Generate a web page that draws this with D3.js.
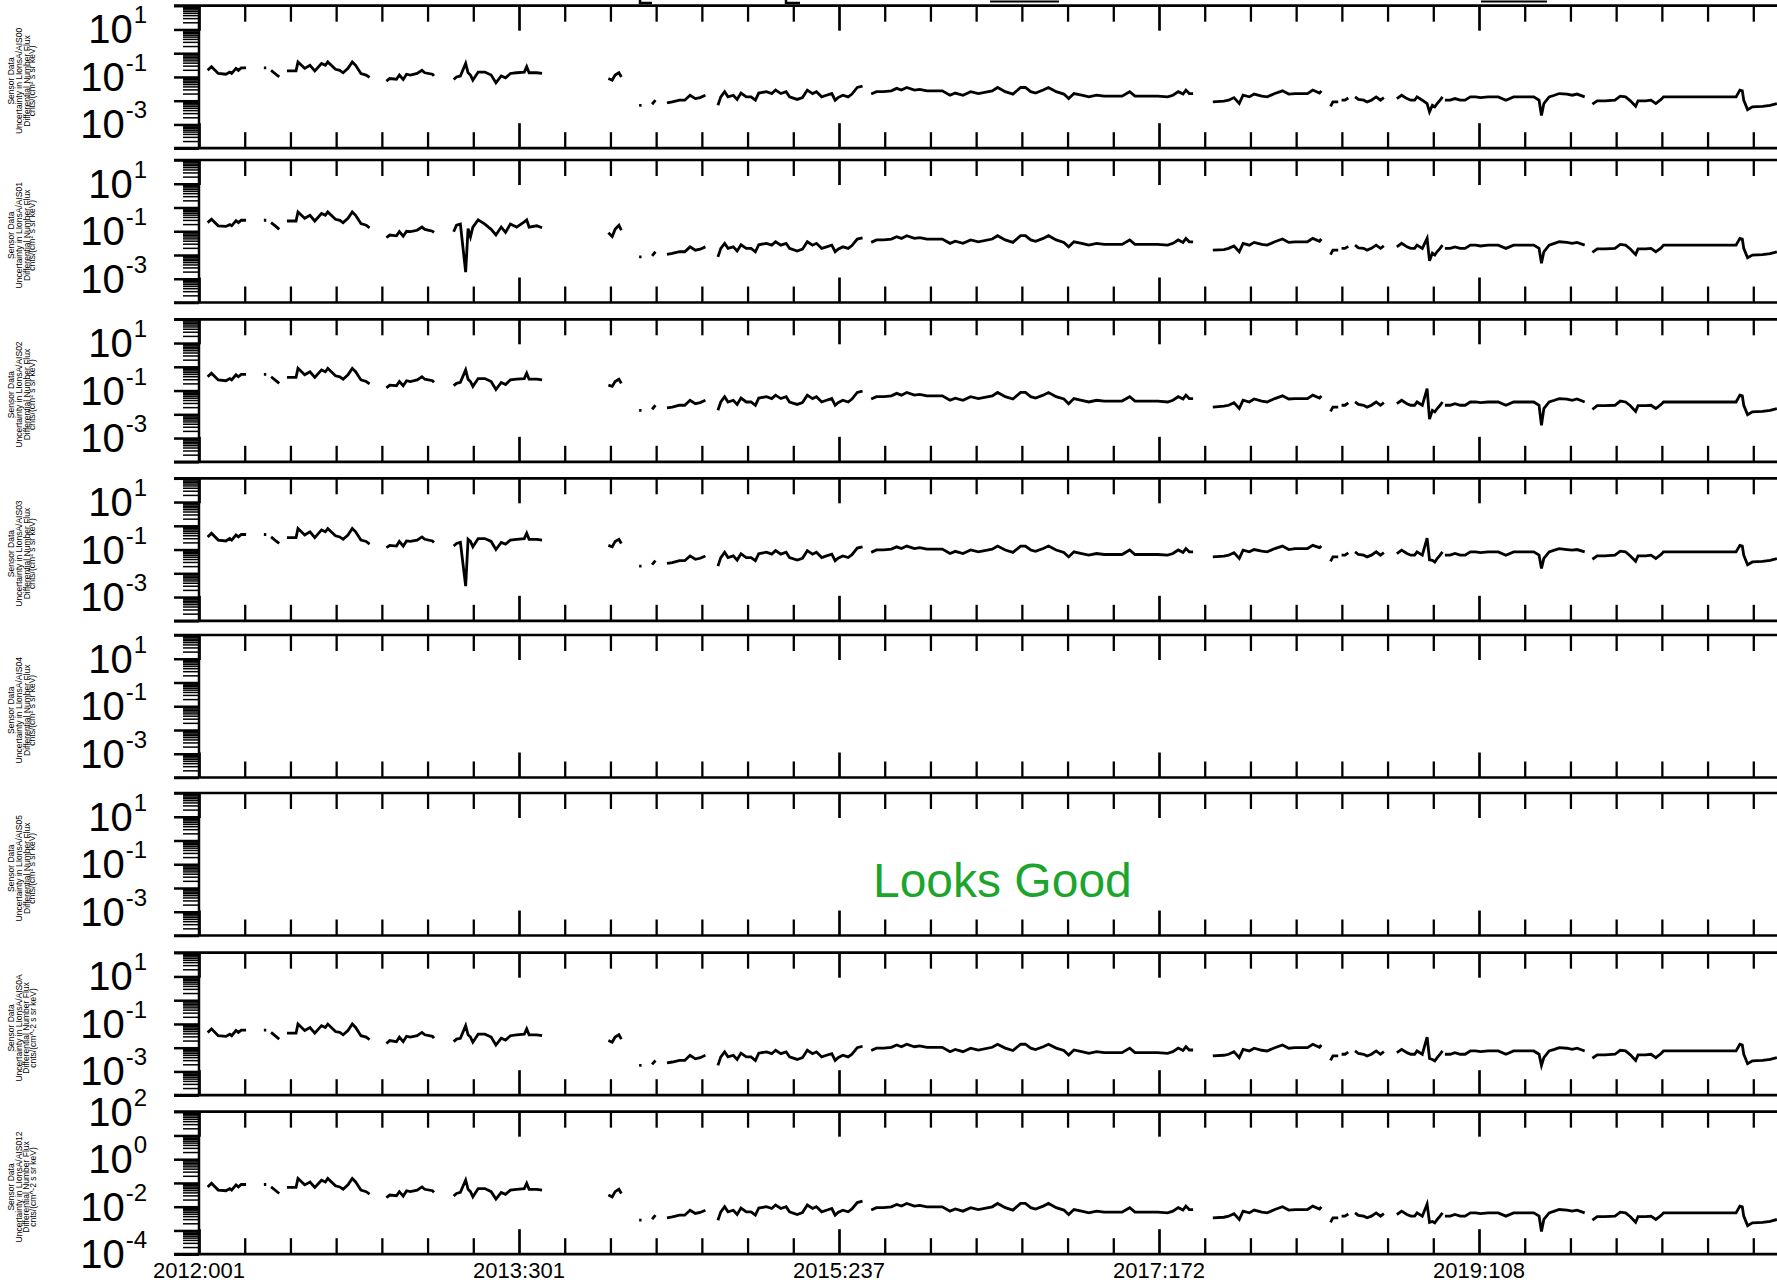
<!DOCTYPE html>
<html><head><meta charset="utf-8">
<script src="https://cdn.jsdelivr.net/npm/d3@7"></script>
<style>body{margin:0;background:#fff}svg{display:block}</style>
</head><body>
<svg id="c" width="1777" height="1282"></svg>
<script>
// ---------------- data ----------------
const xTickLabels = ["2012:001","2013:301","2015:237","2017:172","2019:108"];
const labelDays = [0,666,1332,1998,2664];      // days since 2012:001
const channels = ["AIS00","AIS01","AIS02","AIS03","AIS04","AIS05","AIS0A","AIS012"];
const statusText = "Looks Good";
const segDays = [
[18,26,40,56,64,68,77,82,88,98],
[135,140],
[150,160,167],
[183,202,206,220,231,241,255,263,268,284,293,300,310,319,326,337,348,355],
[390,397,411,417,425,432,440,454,464,470,486,489],
[530,536,544,555,560,565,570,581,595,608,618,629,638,648,661,677,682,687,703,714],
[852,860,866,874,879],
[916,921],
[943,950],
[974,985,1000,1011,1022,1033,1043,1054],
[1080,1086,1094,1101,1112,1120,1128,1139,1149,1158,1165,1181,1192,1200,1211,1222,1229,1245,1256,1266,1277,1285,1296,1306,1317,1324,1330,1340,1351,1359,1370,1381],
[1399,1410,1425,1441,1452,1462,1473,1489,1500,1515,1531,1547,1563,1574,1590,1606,1622,1651,1662,1678,1694,1710,1720,1731,1741,1757,1768,1784,1800,1810,1821,1837,1852,1868,1884,1900,1921,1937,1948,1964,1995,2016,2027,2038,2048,2054,2061,2069],
[2110,2133,2143,2154,2165,2173,2186,2196,2212,2223,2239,2255,2268,2281,2292,2307,2318,2332,2336],
[2355,2360,2371],
[2378,2385,2392],
[2406,2413,2424,2431,2440,2450,2459,2466],
[2493,2503,2514,2522,2530,2535,2546,2556,2561,2567,2572,2577,2583,2588],
[2593,2604,2614,2625,2635,2646,2657,2667,2683,2704,2720,2736,2757,2778,2789,2794,2799,2810,2821,2831,2847,2858,2868,2884],
[2900,2910,2926,2947,2958,2969,2979,2990,2995,3011,3022,3032,3043,3048,3064,3106,3159,3199,3207,3212,3215,3223,3233,3254,3270,3284]
];
const fluxP1 = [
[0.19,0.27,0.14,0.13,0.16,0.14,0.23,0.19,0.24,0.24],
[0.24,0.24],
[0.19,0.13,0.10],
[0.18,0.18,0.43,0.23,0.31,0.18,0.37,0.31,0.43,0.21,0.19,0.15,0.23,0.43,0.31,0.14,0.12,0.095],
[0.067,0.086,0.080,0.12,0.078,0.13,0.12,0.14,0.19,0.15,0.13,0.11],
[0.078,0.10,0.11,0.37,0.15,0.12,0.073,0.16,0.16,0.12,0.057,0.11,0.092,0.14,0.15,0.16,0.27,0.15,0.15,0.14],
[0.086,0.073,0.12,0.15,0.10],
[0.0064,0.0064],
[0.0071,0.0105],
[0.0081,0.0089,0.0105,0.0105,0.017,0.0123,0.0135,0.017],
[0.0064,0.0145,0.024,0.0145,0.017,0.0113,0.021,0.0145,0.0145,0.0105,0.021,0.024,0.020,0.028,0.020,0.024,0.0145,0.0113,0.0135,0.028,0.020,0.024,0.0145,0.017,0.020,0.0105,0.0135,0.017,0.0145,0.019,0.036,0.041],
[0.019,0.024,0.024,0.026,0.033,0.028,0.036,0.028,0.030,0.026,0.026,0.026,0.017,0.021,0.017,0.024,0.020,0.026,0.036,0.024,0.019,0.036,0.036,0.024,0.021,0.028,0.036,0.024,0.019,0.0123,0.020,0.017,0.0145,0.017,0.0155,0.0155,0.0155,0.024,0.0155,0.0155,0.0155,0.0145,0.017,0.024,0.019,0.028,0.020,0.020],
[0.0089,0.0096,0.0105,0.0135,0.0076,0.017,0.0145,0.019,0.0155,0.0145,0.020,0.026,0.019,0.020,0.020,0.020,0.028,0.021,0.026],
[0.0058,0.0089,0.0089],
[0.0105,0.0105,0.013],
[0.0145,0.0113,0.0105,0.0089,0.0105,0.0145,0.0105,0.0135],
[0.0123,0.017,0.0123,0.0105,0.0105,0.0145,0.0105,0.0076,0.0034,0.0064,0.0055,0.0076,0.0105,0.0145],
[0.0105,0.0105,0.0123,0.0105,0.0105,0.0145,0.0145,0.0135,0.0145,0.0145,0.0105,0.0145,0.0145,0.0145,0.0105,0.0024,0.0076,0.0145,0.017,0.020,0.019,0.017,0.019,0.0145],
[0.0071,0.0099,0.0099,0.0105,0.0155,0.0145,0.0099,0.0058,0.0099,0.0099,0.0105,0.0076,0.0113,0.0145,0.0145,0.0145,0.0145,0.0145,0.028,0.026,0.0105,0.0042,0.0055,0.0058,0.0064,0.0076]
];
const fluxP2 = [
[0.23,0.32,0.17,0.16,0.19,0.17,0.28,0.23,0.29,0.29],
[0.29,0.29],
[0.23,0.16,0.12],
[0.27,0.27,0.65,0.35,0.47,0.27,0.56,0.47,0.65,0.32,0.29,0.23,0.35,0.65,0.47,0.21,0.18,0.14],
[0.054,0.069,0.064,0.096,0.062,0.10,0.096,0.11,0.15,0.12,0.10,0.088],
[0.095,0.18,0.2,0.0019,0.13,0.058,0.15,0.30,0.2,0.12,0.07,0.15,0.09,0.2,0.15,0.25,0.3,0.15,0.17,0.14],
[0.086,0.06,0.12,0.18,0.11],
[0.0083,0.0083],
[0.0092,0.0137],
[0.0105,0.0116,0.0137,0.0137,0.022,0.016,0.0176,0.022],
[0.0083,0.019,0.031,0.019,0.022,0.0147,0.027,0.019,0.019,0.0137,0.027,0.031,0.026,0.036,0.026,0.031,0.019,0.0147,0.0176,0.036,0.026,0.031,0.019,0.022,0.026,0.0137,0.0176,0.022,0.019,0.025,0.047,0.053],
[0.034,0.043,0.043,0.047,0.059,0.05,0.065,0.05,0.054,0.047,0.047,0.047,0.031,0.038,0.031,0.043,0.036,0.047,0.065,0.043,0.034,0.065,0.065,0.043,0.038,0.05,0.065,0.043,0.034,0.022,0.036,0.031,0.026,0.031,0.028,0.028,0.028,0.043,0.028,0.028,0.028,0.026,0.031,0.043,0.034,0.05,0.036,0.036],
[0.016,0.017,0.019,0.024,0.0137,0.031,0.026,0.034,0.028,0.026,0.036,0.047,0.034,0.036,0.036,0.036,0.05,0.038,0.047],
[0.0104,0.016,0.016],
[0.019,0.019,0.023],
[0.026,0.02,0.019,0.016,0.019,0.026,0.019,0.024],
[0.022,0.031,0.022,0.019,0.019,0.026,0.019,0.05,0.0057,0.012,0.01,0.014,0.019,0.026],
[0.019,0.019,0.022,0.019,0.019,0.026,0.026,0.024,0.026,0.026,0.019,0.026,0.026,0.026,0.019,0.0045,0.0137,0.026,0.031,0.036,0.034,0.031,0.034,0.026],
[0.0128,0.018,0.018,0.019,0.028,0.026,0.018,0.0104,0.018,0.018,0.019,0.0137,0.02,0.026,0.026,0.026,0.026,0.026,0.05,0.047,0.019,0.0076,0.0099,0.0104,0.0115,0.0137]
];
const fluxP3 = [
[0.38,0.54,0.28,0.26,0.32,0.28,0.46,0.38,0.48,0.48],
[0.48,0.48],
[0.38,0.26,0.2],
[0.36,0.36,0.86,0.46,0.62,0.36,0.74,0.62,0.86,0.42,0.38,0.3,0.46,0.86,0.62,0.28,0.24,0.19],
[0.13,0.17,0.16,0.24,0.16,0.26,0.24,0.28,0.38,0.3,0.26,0.22],
[0.16,0.2,0.22,0.74,0.3,0.24,0.15,0.32,0.32,0.24,0.11,0.22,0.18,0.28,0.3,0.32,0.54,0.3,0.3,0.28],
[0.17,0.15,0.24,0.3,0.2],
[0.0147,0.0147],
[0.0163,0.024],
[0.0186,0.02,0.024,0.024,0.039,0.028,0.031,0.039],
[0.0147,0.033,0.055,0.033,0.039,0.026,0.048,0.033,0.033,0.024,0.048,0.055,0.046,0.064,0.046,0.055,0.033,0.026,0.031,0.064,0.046,0.055,0.033,0.039,0.046,0.024,0.031,0.039,0.033,0.044,0.083,0.094],
[0.044,0.055,0.055,0.06,0.076,0.064,0.083,0.064,0.069,0.06,0.06,0.06,0.039,0.048,0.039,0.055,0.046,0.06,0.083,0.055,0.044,0.083,0.083,0.055,0.048,0.064,0.083,0.055,0.044,0.028,0.046,0.039,0.033,0.039,0.036,0.036,0.036,0.055,0.036,0.036,0.036,0.033,0.039,0.055,0.044,0.064,0.046,0.046],
[0.02,0.022,0.024,0.031,0.0175,0.039,0.033,0.044,0.036,0.033,0.046,0.06,0.044,0.046,0.046,0.046,0.064,0.048,0.06],
[0.0133,0.02,0.02],
[0.024,0.024,0.03],
[0.033,0.026,0.024,0.02,0.024,0.033,0.024,0.031],
[0.028,0.039,0.028,0.024,0.024,0.033,0.024,0.12,0.0063,0.0147,0.0127,0.0175,0.024,0.033],
[0.024,0.024,0.028,0.024,0.024,0.033,0.033,0.031,0.033,0.033,0.024,0.033,0.033,0.033,0.024,0.0034,0.0175,0.033,0.039,0.046,0.044,0.039,0.044,0.033],
[0.0163,0.023,0.023,0.024,0.036,0.033,0.023,0.0133,0.023,0.023,0.024,0.0175,0.026,0.033,0.033,0.033,0.033,0.033,0.064,0.06,0.024,0.0097,0.0127,0.0133,0.0147,0.0175]
];
const fluxP4 = [
[0.34,0.49,0.25,0.23,0.29,0.25,0.41,0.34,0.43,0.43],
[0.43,0.43],
[0.34,0.23,0.18],
[0.32,0.32,0.77,0.41,0.56,0.32,0.67,0.56,0.77,0.38,0.34,0.27,0.41,0.77,0.56,0.25,0.22,0.17],
[0.12,0.15,0.14,0.22,0.14,0.23,0.22,0.25,0.34,0.27,0.23,0.2],
[0.14,0.18,0.2,0.0029,0.27,0.22,0.13,0.29,0.29,0.22,0.1,0.2,0.17,0.25,0.27,0.29,0.49,0.27,0.27,0.25],
[0.15,0.13,0.22,0.27,0.18],
[0.02,0.02],
[0.023,0.034],
[0.026,0.028,0.034,0.034,0.054,0.039,0.043,0.054],
[0.02,0.046,0.077,0.046,0.054,0.036,0.067,0.046,0.046,0.034,0.067,0.077,0.064,0.09,0.064,0.077,0.046,0.036,0.043,0.09,0.064,0.077,0.046,0.054,0.064,0.034,0.043,0.054,0.046,0.061,0.115,0.13],
[0.076,0.096,0.096,0.104,0.13,0.11,0.14,0.11,0.12,0.104,0.104,0.104,0.068,0.084,0.068,0.096,0.08,0.104,0.14,0.096,0.076,0.14,0.14,0.096,0.084,0.11,0.14,0.096,0.076,0.049,0.08,0.068,0.058,0.068,0.062,0.062,0.062,0.096,0.062,0.062,0.062,0.058,0.068,0.096,0.076,0.11,0.08,0.08],
[0.049,0.053,0.058,0.074,0.042,0.094,0.08,0.1,0.085,0.08,0.11,0.14,0.1,0.11,0.11,0.11,0.15,0.12,0.14],
[0.032,0.049,0.049],
[0.058,0.058,0.072],
[0.08,0.062,0.058,0.049,0.058,0.08,0.058,0.074],
[0.068,0.094,0.068,0.058,0.058,0.08,0.058,0.3,0.037,0.035,0.03,0.042,0.058,0.08],
[0.058,0.058,0.068,0.058,0.058,0.08,0.08,0.074,0.08,0.08,0.058,0.08,0.08,0.08,0.058,0.016,0.042,0.08,0.094,0.11,0.1,0.094,0.1,0.08],
[0.039,0.054,0.054,0.058,0.085,0.08,0.054,0.032,0.054,0.054,0.058,0.042,0.062,0.08,0.08,0.08,0.08,0.08,0.15,0.14,0.058,0.023,0.03,0.032,0.035,0.042]
];
const fluxP7 = [
[0.044,0.062,0.032,0.03,0.037,0.032,0.053,0.044,0.055,0.055],
[0.055,0.055],
[0.044,0.03,0.023],
[0.041,0.041,0.099,0.053,0.071,0.041,0.085,0.071,0.099,0.048,0.044,0.035,0.053,0.099,0.071,0.032,0.028,0.022],
[0.015,0.02,0.018,0.028,0.018,0.03,0.028,0.032,0.044,0.035,0.03,0.025],
[0.018,0.023,0.025,0.085,0.035,0.028,0.017,0.037,0.037,0.028,0.013,0.025,0.021,0.032,0.035,0.037,0.062,0.035,0.035,0.032],
[0.02,0.017,0.028,0.035,0.023],
[0.0018,0.0018],
[0.002,0.0029],
[0.0023,0.0025,0.0029,0.0029,0.0048,0.0034,0.0038,0.0048],
[0.0018,0.0041,0.0067,0.0041,0.0048,0.0032,0.0059,0.0041,0.0041,0.0029,0.0059,0.0067,0.0056,0.0078,0.0056,0.0067,0.0041,0.0032,0.0038,0.0078,0.0056,0.0067,0.0041,0.0048,0.0056,0.0029,0.0038,0.0048,0.0041,0.0053,0.01,0.0115],
[0.0076,0.0096,0.0096,0.0104,0.013,0.011,0.014,0.011,0.012,0.0104,0.0104,0.0104,0.0068,0.0084,0.0068,0.0096,0.008,0.0104,0.014,0.0096,0.0076,0.014,0.014,0.0096,0.0084,0.011,0.014,0.0096,0.0076,0.0049,0.008,0.0068,0.0058,0.0068,0.0062,0.0062,0.0062,0.0096,0.0062,0.0062,0.0062,0.0058,0.0068,0.0096,0.0076,0.011,0.008,0.008],
[0.0045,0.0048,0.0053,0.0068,0.0038,0.0085,0.0073,0.0095,0.0078,0.0073,0.01,0.013,0.0095,0.01,0.01,0.01,0.014,0.0105,0.013],
[0.0029,0.0045,0.0045],
[0.0053,0.0053,0.0065],
[0.0073,0.0057,0.0053,0.0045,0.0053,0.0073,0.0053,0.0068],
[0.0062,0.0085,0.0062,0.0053,0.0053,0.0073,0.0053,0.028,0.0035,0.0032,0.0028,0.0038,0.0053,0.0073],
[0.0053,0.0053,0.0062,0.0053,0.0053,0.0073,0.0073,0.0068,0.0073,0.0073,0.0053,0.0073,0.0073,0.0073,0.0053,0.0018,0.0038,0.0073,0.0085,0.01,0.0095,0.0085,0.0095,0.0073],
[0.0036,0.005,0.005,0.0053,0.0078,0.0073,0.005,0.0029,0.005,0.005,0.0053,0.0038,0.0057,0.0073,0.0073,0.0073,0.0073,0.0073,0.014,0.013,0.0053,0.0021,0.0028,0.0029,0.0032,0.0038]
];
const fluxP8 = [
[0.068,0.097,0.05,0.047,0.058,0.05,0.083,0.068,0.086,0.086],
[0.086,0.086],
[0.068,0.047,0.036],
[0.065,0.065,0.155,0.083,0.11,0.065,0.13,0.11,0.155,0.076,0.068,0.054,0.083,0.155,0.11,0.05,0.043,0.034],
[0.024,0.031,0.029,0.043,0.028,0.047,0.043,0.05,0.068,0.054,0.047,0.04],
[0.028,0.036,0.04,0.133,0.054,0.043,0.026,0.058,0.058,0.043,0.021,0.04,0.033,0.05,0.054,0.058,0.097,0.054,0.054,0.05],
[0.031,0.026,0.043,0.054,0.036],
[0.0027,0.0027],
[0.003,0.0044],
[0.0034,0.0037,0.0044,0.0044,0.0071,0.0052,0.0057,0.0071],
[0.0027,0.0061,0.01,0.0061,0.0071,0.0047,0.0088,0.0061,0.0061,0.0044,0.0088,0.01,0.0084,0.0118,0.0084,0.01,0.0061,0.0047,0.0057,0.0118,0.0084,0.01,0.0061,0.0071,0.0084,0.0044,0.0057,0.0071,0.0061,0.008,0.015,0.017],
[0.0072,0.0091,0.0091,0.0099,0.0125,0.0106,0.0137,0.0106,0.0114,0.0099,0.0099,0.0099,0.0065,0.008,0.0065,0.0091,0.0076,0.0099,0.0137,0.0091,0.0072,0.0137,0.0137,0.0091,0.008,0.0106,0.0137,0.0091,0.0072,0.0047,0.0076,0.0065,0.0055,0.0065,0.0059,0.0059,0.0059,0.0091,0.0059,0.0059,0.0059,0.0055,0.0065,0.0091,0.0072,0.0106,0.0076,0.0076],
[0.0034,0.0036,0.004,0.0051,0.0029,0.0065,0.0055,0.0072,0.0059,0.0055,0.0076,0.0099,0.0072,0.0076,0.0076,0.0076,0.0106,0.008,0.0099],
[0.0022,0.0034,0.0034],
[0.004,0.004,0.0049],
[0.0055,0.0043,0.004,0.0034,0.004,0.0055,0.004,0.0051],
[0.0047,0.0065,0.0047,0.004,0.004,0.0055,0.004,0.013,0.0022,0.0024,0.0021,0.0029,0.004,0.0055],
[0.004,0.004,0.0047,0.004,0.004,0.0055,0.0055,0.0051,0.0055,0.0055,0.004,0.0055,0.0055,0.0055,0.004,0.0009,0.0029,0.0055,0.0065,0.0076,0.0072,0.0065,0.0072,0.0055],
[0.0027,0.0038,0.0038,0.004,0.0059,0.0055,0.0038,0.0022,0.0038,0.0038,0.004,0.0029,0.0043,0.0055,0.0055,0.0055,0.0055,0.0055,0.0106,0.0099,0.004,0.0016,0.0021,0.0022,0.0024,0.0029]
];
const panelFlux = [fluxP1, fluxP2, fluxP3, fluxP4, null, null, fluxP7, fluxP8];
const yExpOdd = [1,-1,-3];
const yExpEven = [2,0,-2,-4];

// ---------------- layout ----------------
const W = 1777, H = 1282;
const FONT = "'Liberation Sans', Arial, Helvetica, sans-serif";
const plotLeft = 199, PH = 142.5;
const panelTops = [5.7,160,319.3,478.3,635,793,952.7,1111.7];
const daysPerMajor = 666, minorPerMajor = 7;
const pxPerDay = 320 / daysPerMajor;
const svg = d3.select("#c");
svg.append("rect").attr("width", W).attr("height", H).attr("fill", "#fff");

const x = d3.scaleLinear().domain([0, 3500]).range([plotLeft, plotLeft + 3500 * pxPerDay]);
const tickDays = d3.range(0, 37).map(k => k * daysPerMajor / minorPerMajor);
const majorDays = tickDays.filter((d, k) => k % minorPerMajor === 0);
const minorDays = tickDays.filter((d, k) => k % minorPerMajor !== 0);

const defs = svg.append("defs");

function styleTicks(sel, w) {
  sel.select(".domain").remove();
  sel.selectAll(".tick line").attr("stroke", "#000").attr("stroke-width", w);
  sel.selectAll(".tick text").remove();
}

panelTops.forEach((top, i) => {
  const bottom = top + PH;
  const y = d3.scaleLog().domain([1e-4, 1e2]).range([bottom, top]);
  const g = svg.append("g");

  defs.append("clipPath").attr("id", "clip" + i)
    .append("rect").attr("x", plotLeft).attr("y", top - 2).attr("width", W - plotLeft).attr("height", PH + 4);

  // data
  const flux = panelFlux[i];
  if (flux) {
    const line = d3.line().x(d => x(d[0])).y(d => y(d[1]));
    const dg = g.append("g").attr("clip-path", `url(#clip${i})`);
    segDays.forEach((days, s) => {
      const vals = flux[s];
      const n = Math.min(days.length, vals.length);
      const pts = d3.range(n).map(k => [days[k], vals[k]]);
      dg.append("path").attr("d", line(pts)).attr("fill", "none")
        .attr("stroke", "#000").attr("stroke-width", 2.8).attr("stroke-linejoin", "miter");
    });
  }

  // x ticks (top & bottom)
  g.append("g").attr("transform", `translate(0,${top})`)
    .call(d3.axisBottom(x).tickValues(minorDays).tickSize(16).tickFormat(""))
    .call(s => styleTicks(s, 2.3));
  g.append("g").attr("transform", `translate(0,${top})`)
    .call(d3.axisBottom(x).tickValues(majorDays).tickSize(25).tickFormat(""))
    .call(s => styleTicks(s, 2.7));
  g.append("g").attr("transform", `translate(0,${bottom})`)
    .call(d3.axisTop(x).tickValues(minorDays).tickSize(16).tickFormat(""))
    .call(s => styleTicks(s, 2.3));
  g.append("g").attr("transform", `translate(0,${bottom})`)
    .call(d3.axisTop(x).tickValues(majorDays).tickSize(25).tickFormat(""))
    .call(s => styleTicks(s, 2.7));

  // y ticks
  const yt = y.ticks();
  const isMajor = t => Math.abs(Math.log10(t) - Math.round(Math.log10(t))) < 1e-9;
  g.append("g").attr("transform", `translate(${plotLeft},0)`)
    .call(d3.axisLeft(y).tickValues(yt.filter(t => !isMajor(t))).tickSize(16).tickFormat(""))
    .call(s => styleTicks(s, 1.5));
  g.append("g").attr("transform", `translate(${plotLeft},0)`)
    .call(d3.axisLeft(y).tickValues(yt.filter(isMajor)).tickSize(25).tickFormat(""))
    .call(s => styleTicks(s, 2.5));

  // frame lines (top, bottom, left)
  g.append("line").attr("x1", plotLeft - 25).attr("x2", W).attr("y1", top).attr("y2", top)
    .attr("stroke", "#000").attr("stroke-width", 2.7);
  g.append("line").attr("x1", plotLeft - 25).attr("x2", W).attr("y1", bottom).attr("y2", bottom)
    .attr("stroke", "#000").attr("stroke-width", 2.7);
  g.append("line").attr("x1", plotLeft).attr("x2", plotLeft).attr("y1", top).attr("y2", bottom)
    .attr("stroke", "#000").attr("stroke-width", 2.5);

  // y tick labels
  const exps = i === 7 ? yExpEven : yExpOdd;
  exps.forEach(e => {
    const ty = y(Math.pow(10, e));
    const t = g.append("text").attr("x", 147).attr("y", ty + 14)
      .attr("text-anchor", "end").attr("font-family", FONT).attr("fill", "#000");
    t.append("tspan").attr("font-size", 40).text("10");
    t.append("tspan").attr("font-size", 24).attr("dx", 1).attr("dy", -20).text(String(e));
  });

  // rotated y-axis title (4 lines)
  const cy = (top + bottom) / 2 + 4;
  const lines = ["Sensor Data", "Uncertainty in LIonsA/" + channels[i], "Differential Number Flux",
    i >= 6 ? "cnts/(cm^-2 s sr keV)" : "cnts/(cm\u00B2 s sr keV)"];
  const bx = i >= 6 ? [14, 22, 29, 35.5] : [14, 22, 30, 35];
  lines.forEach((ln, k) => {
    g.append("text").attr("transform", `translate(${bx[k]},${cy}) rotate(-90)`)
      .attr("text-anchor", "middle").attr("font-family", FONT).attr("font-size", 8.5)
      .attr("fill", "#000").text(ln);
  });
});

// x labels under last panel
const lastBottom = panelTops[7] + PH;
xTickLabels.forEach((lab, k) => {
  svg.append("text").attr("x", x(labelDays[k])).attr("y", lastBottom + 24)
    .attr("text-anchor", "middle").attr("font-family", FONT).attr("font-size", 22)
    .attr("fill", "#000").text(lab);
});

// status text in 6th panel
svg.append("text").attr("x", x(1672)).attr("y", panelTops[5] + 104)
  .attr("text-anchor", "middle").attr("font-family", FONT).attr("font-size", 48)
  .attr("fill", "#1ca52c").text(statusText);

// remnants of the cropped title at the very top
const titleMarks = [[640, 652], [786, 800]];
titleMarks.forEach(([a, b]) => {
  svg.append("path").attr("d", `M${a},0 L${a},3 L${b},3`).attr("fill", "none")
    .attr("stroke", "#000").attr("stroke-width", 2.5);
});
[[990, 1059], [1481, 1547]].forEach(([a, b]) => {
  svg.append("line").attr("x1", a).attr("x2", b).attr("y1", 1.5).attr("y2", 1.5)
    .attr("stroke", "#000").attr("stroke-width", 2);
});
</script>
</body></html>
